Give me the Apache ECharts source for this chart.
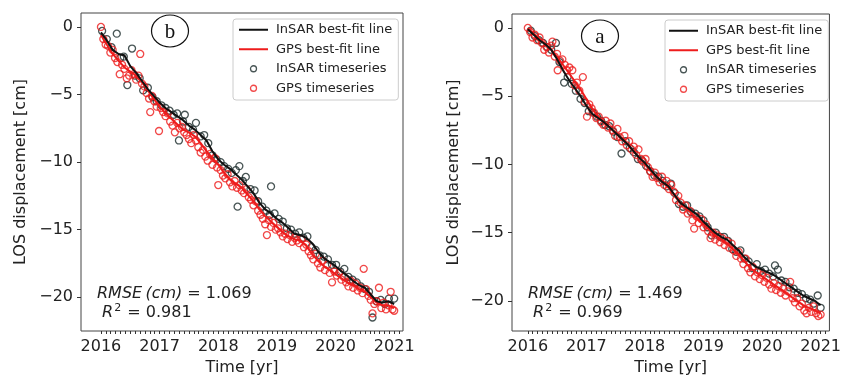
<!DOCTYPE html>
<html>
<head>
<meta charset="utf-8">
<script src="https://cdn.jsdelivr.net/npm/echarts@6/dist/echarts.min.js"></script>
<style>
  html, body { margin: 0; padding: 0; background: #fff; }
  #chart { width: 844px; height: 381px; }
</style>
</head>
<body>
<div id="chart"></div>
<script>
// ---------- Tick labels ----------
var xTickYears = [2016, 2017, 2018, 2019, 2020, 2021];
var yTickValues = [0, -5, -10, -15, -20];

// ---------- Panel b (left) ----------
var bInsarFit = [
  [2016.0,-0.4],[2016.1,-1.0],[2016.2,-1.7],[2016.3,-2.0],[2016.4,-2.1],[2016.5,-2.9],[2016.6,-3.4],[2016.7,-4.0],[2016.8,-4.6],[2016.9,-5.1],
  [2017.0,-5.6],[2017.1,-6.0],[2017.2,-6.3],[2017.3,-6.6],[2017.4,-6.9],[2017.5,-7.3],[2017.6,-7.6],[2017.7,-8.0],[2017.8,-8.4],[2017.9,-9.2],
  [2018.0,-9.8],[2018.1,-10.2],[2018.2,-10.5],[2018.3,-10.9],[2018.4,-11.3],[2018.5,-11.8],[2018.6,-12.3],[2018.7,-13.0],[2018.8,-13.5],[2018.9,-13.8],
  [2019.0,-14.2],[2019.1,-14.5],[2019.2,-14.9],[2019.3,-15.3],[2019.4,-15.4],[2019.5,-15.6],[2019.6,-16.0],[2019.7,-16.6],[2019.8,-17.1],[2019.9,-17.4],
  [2020.0,-17.7],[2020.1,-18.1],[2020.2,-18.4],[2020.3,-18.8],[2020.4,-19.1],[2020.5,-19.3],[2020.6,-19.8],[2020.7,-20.3],[2020.8,-20.4],[2020.9,-20.3],[2021.0,-20.5]
];
var bGpsFit = [
  [2016.0,-0.6],[2016.1,-1.3],[2016.2,-2.0],[2016.3,-2.5],[2016.4,-3.0],[2016.5,-3.3],[2016.6,-3.6],[2016.7,-4.1],[2016.8,-4.7],[2016.9,-5.3],
  [2017.0,-5.9],[2017.1,-6.4],[2017.2,-6.8],[2017.3,-7.2],[2017.4,-7.6],[2017.5,-7.8],[2017.6,-8.1],[2017.7,-8.6],[2017.8,-9.2],[2017.9,-9.7],
  [2018.0,-10.2],[2018.1,-10.8],[2018.2,-11.3],[2018.3,-11.6],[2018.4,-11.9],[2018.5,-12.4],[2018.6,-12.9],[2018.7,-13.5],[2018.8,-14.0],[2018.9,-14.4],
  [2019.0,-14.8],[2019.1,-15.2],[2019.2,-15.5],[2019.3,-15.7],[2019.4,-15.8],[2019.5,-16.2],[2019.6,-16.8],[2019.7,-17.3],[2019.8,-17.7],[2019.9,-18.0],
  [2020.0,-18.3],[2020.1,-18.6],[2020.2,-18.9],[2020.3,-19.1],[2020.4,-19.4],[2020.5,-19.6],[2020.6,-20.0],[2020.7,-20.4],[2020.8,-20.6],[2020.9,-20.6],[2021.0,-20.8]
];
var bInsarPts = [
  [2016.02,-0.3],[2016.10,-0.9],[2016.18,-1.5],[2016.27,-0.5],[2016.33,-2.3],[2016.39,-2.2],[2016.45,-4.3],[2016.53,-1.6],[2016.58,-3.6],[2016.66,-3.8],
  [2016.72,-4.7],[2016.80,-4.5],[2016.88,-5.2],[2016.95,-5.5],[2017.03,-5.8],[2017.10,-6.0],[2017.17,-6.2],[2017.24,-6.5],[2017.30,-6.4],[2017.33,-8.4],
  [2017.40,-7.0],[2017.43,-6.5],[2017.50,-7.4],[2017.57,-7.6],[2017.62,-7.1],[2017.70,-8.1],[2017.76,-8.0],[2017.83,-8.6],[2017.90,-9.5],[2017.97,-9.8],
  [2018.04,-10.0],[2018.10,-10.3],[2018.17,-10.5],[2018.23,-10.8],[2018.30,-10.6],[2018.33,-13.3],[2018.36,-10.3],[2018.42,-11.4],[2018.47,-11.1],[2018.55,-12.0],
  [2018.62,-12.1],[2018.68,-12.9],[2018.75,-13.3],[2018.82,-13.6],[2018.88,-13.9],[2018.90,-11.8],[2018.96,-13.8],[2019.03,-14.2],[2019.10,-14.4],[2019.17,-14.9],
  [2019.24,-15.0],[2019.31,-15.3],[2019.38,-15.2],[2019.45,-15.6],[2019.52,-15.5],[2019.59,-16.3],[2019.66,-16.5],[2019.73,-16.9],[2019.80,-17.0],[2019.87,-17.2],
  [2019.94,-17.6],[2020.01,-17.6],[2020.08,-18.1],[2020.15,-17.9],[2020.22,-18.5],[2020.29,-18.7],[2020.36,-18.9],[2020.43,-19.2],[2020.50,-19.4],[2020.57,-19.6],
  [2020.63,-21.5],[2020.70,-20.3],[2020.77,-20.2],[2020.84,-20.5],[2020.91,-20.1],[2021.00,-20.1]
];
var bGpsPts = [
  [2016.00,0.0],[2016.04,-0.9],[2016.08,-1.3],[2016.12,-1.4],[2016.16,-1.9],[2016.20,-1.7],[2016.24,-2.3],[2016.28,-2.6],[2016.32,-3.5],[2016.36,-2.8],
  [2016.40,-3.1],[2016.44,-3.8],[2016.48,-3.6],[2016.52,-3.2],[2016.56,-3.5],[2016.60,-3.9],[2016.64,-3.6],[2016.67,-2.0],[2016.70,-4.2],[2016.74,-4.4],
  [2016.78,-4.9],[2016.82,-5.3],[2016.84,-6.3],[2016.87,-5.1],[2016.91,-5.5],[2016.95,-5.9],[2016.99,-7.7],[2017.02,-6.0],[2017.06,-6.3],[2017.10,-6.6],
  [2017.14,-6.4],[2017.18,-7.0],[2017.22,-7.3],[2017.26,-7.8],[2017.30,-7.1],[2017.34,-7.5],[2017.38,-7.4],[2017.42,-7.8],[2017.46,-8.0],[2017.50,-8.3],
  [2017.54,-8.6],[2017.58,-8.0],[2017.62,-8.4],[2017.66,-8.9],[2017.70,-9.3],[2017.74,-9.1],[2017.78,-9.6],[2017.82,-9.9],[2017.86,-9.4],[2017.90,-10.2],
  [2017.94,-9.7],[2017.98,-10.4],[2018.00,-11.7],[2018.04,-10.6],[2018.08,-11.0],[2018.12,-11.2],[2018.16,-10.9],[2018.20,-11.5],[2018.24,-11.8],[2018.28,-11.4],
  [2018.32,-11.9],[2018.36,-11.7],[2018.40,-12.1],[2018.44,-12.3],[2018.48,-12.0],[2018.52,-12.6],[2018.56,-12.8],[2018.60,-13.2],[2018.64,-12.9],[2018.68,-13.6],
  [2018.72,-13.9],[2018.76,-14.2],[2018.80,-14.6],[2018.83,-15.4],[2018.86,-14.3],[2018.90,-14.8],[2018.94,-14.5],[2018.98,-15.0],[2019.02,-14.9],[2019.06,-15.2],
  [2019.10,-15.5],[2019.14,-15.3],[2019.18,-15.7],[2019.22,-15.4],[2019.26,-15.9],[2019.30,-15.6],[2019.34,-15.8],[2019.38,-16.0],[2019.42,-15.7],[2019.46,-16.3],
  [2019.50,-16.1],[2019.54,-16.6],[2019.58,-16.9],[2019.62,-17.2],[2019.66,-16.8],[2019.70,-17.5],[2019.74,-17.8],[2019.78,-17.3],[2019.82,-18.0],[2019.86,-17.6],
  [2019.90,-18.2],[2019.94,-18.9],[2019.98,-18.1],[2020.02,-18.4],[2020.06,-18.2],[2020.10,-18.7],[2020.14,-18.5],[2020.18,-18.9],[2020.22,-19.2],[2020.26,-18.8],
  [2020.30,-19.3],[2020.34,-19.0],[2020.38,-19.5],[2020.42,-19.3],[2020.46,-19.7],[2020.48,-17.9],[2020.52,-19.4],[2020.56,-19.9],[2020.60,-20.2],[2020.63,-21.2],
  [2020.66,-20.5],[2020.70,-20.3],[2020.74,-19.3],[2020.78,-20.8],[2020.82,-20.4],[2020.86,-20.9],[2020.90,-20.6],[2020.94,-19.6],[2020.97,-20.9],[2021.00,-21.0]
];

// ---------- Panel a (right) ----------
var aInsarFit = [
  [2016.0,-0.1],[2016.1,-0.5],[2016.2,-0.9],[2016.3,-1.2],[2016.4,-1.6],[2016.5,-2.3],[2016.6,-3.1],[2016.7,-3.8],[2016.8,-4.4],[2016.9,-5.0],
  [2017.0,-5.7],[2017.1,-6.3],[2017.2,-6.6],[2017.3,-6.9],[2017.4,-7.3],[2017.5,-7.7],[2017.6,-8.1],[2017.7,-8.5],[2017.8,-9.0],[2017.9,-9.5],
  [2018.0,-9.9],[2018.1,-10.4],[2018.2,-10.9],[2018.3,-11.3],[2018.4,-11.6],[2018.5,-12.2],[2018.6,-12.8],[2018.7,-13.1],[2018.8,-13.4],[2018.9,-13.7],
  [2019.0,-14.2],[2019.1,-14.6],[2019.2,-15.0],[2019.3,-15.3],[2019.4,-15.5],[2019.5,-15.9],[2019.6,-16.3],[2019.7,-16.8],[2019.8,-17.2],[2019.9,-17.5],
  [2020.0,-17.7],[2020.1,-17.9],[2020.2,-18.1],[2020.3,-18.4],[2020.4,-18.7],[2020.5,-19.0],[2020.6,-19.3],[2020.7,-19.6],[2020.8,-19.8],[2020.9,-20.0],[2021.0,-20.3]
];
var aGpsFit = [
  [2016.0,0.0],[2016.1,-0.4],[2016.2,-0.8],[2016.3,-1.2],[2016.4,-1.6],[2016.5,-2.1],[2016.6,-2.7],[2016.7,-3.3],[2016.8,-3.9],[2016.9,-4.5],
  [2017.0,-5.2],[2017.1,-5.9],[2017.2,-6.5],[2017.3,-6.9],[2017.4,-7.3],[2017.5,-7.7],[2017.6,-8.1],[2017.7,-8.5],[2017.8,-9.0],[2017.9,-9.5],
  [2018.0,-10.0],[2018.1,-10.5],[2018.2,-10.9],[2018.3,-11.3],[2018.4,-11.7],[2018.5,-12.2],[2018.6,-12.8],[2018.7,-13.2],[2018.8,-13.6],[2018.9,-14.0],
  [2019.0,-14.4],[2019.1,-14.8],[2019.2,-15.2],[2019.3,-15.5],[2019.4,-15.8],[2019.5,-16.2],[2019.6,-16.6],[2019.7,-17.1],[2019.8,-17.6],[2019.9,-17.9],
  [2020.0,-18.2],[2020.1,-18.5],[2020.2,-18.8],[2020.3,-19.1],[2020.4,-19.4],[2020.5,-19.7],[2020.6,-20.0],[2020.7,-20.3],[2020.8,-20.5],[2020.9,-20.7],[2021.0,-20.9]
];
var aInsarPts = [
  [2016.05,-0.2],[2016.12,-0.6],[2016.19,-0.9],[2016.26,-1.1],[2016.33,-1.4],[2016.40,-1.6],[2016.48,-1.1],[2016.54,-2.5],[2016.62,-4.0],[2016.68,-3.6],
  [2016.75,-4.1],[2016.82,-4.6],[2016.90,-5.2],[2016.97,-5.5],[2017.04,-6.1],[2017.11,-6.2],[2017.18,-6.5],[2017.25,-6.8],[2017.32,-7.1],[2017.39,-7.2],
  [2017.46,-7.6],[2017.53,-8.0],[2017.60,-9.2],[2017.67,-8.3],[2017.74,-8.8],[2017.81,-9.1],[2017.88,-9.6],[2017.95,-9.7],[2018.02,-10.1],[2018.09,-10.5],
  [2018.16,-10.8],[2018.23,-10.9],[2018.30,-11.2],[2018.37,-11.6],[2018.44,-11.4],[2018.51,-12.1],[2018.58,-12.9],[2018.65,-13.1],[2018.72,-13.0],[2018.79,-13.5],
  [2018.86,-13.6],[2018.93,-13.8],[2019.00,-14.1],[2019.07,-14.6],[2019.14,-15.2],[2019.21,-15.0],[2019.28,-15.3],[2019.35,-15.3],[2019.42,-15.6],[2019.49,-16.2],
  [2019.56,-16.4],[2019.63,-16.3],[2019.70,-16.9],[2019.77,-17.1],[2019.84,-17.6],[2019.91,-17.3],[2019.98,-17.8],[2020.05,-17.7],[2020.12,-18.0],[2020.19,-18.2],
  [2020.22,-17.4],[2020.27,-17.7],[2020.33,-18.5],[2020.40,-18.6],[2020.47,-19.0],[2020.54,-19.1],[2020.61,-19.4],[2020.68,-19.5],[2020.75,-19.8],[2020.82,-19.9],
  [2020.88,-20.2],[2020.95,-19.6],[2021.00,-20.5]
];
var aGpsPts = [
  [2016.00,0.0],[2016.04,-0.3],[2016.08,-0.7],[2016.12,-0.5],[2016.16,-0.9],[2016.20,-0.7],[2016.24,-1.1],[2016.28,-1.6],[2016.32,-1.4],[2016.36,-1.8],
  [2016.40,-1.3],[2016.42,-1.0],[2016.46,-2.1],[2016.50,-1.9],[2016.51,-3.1],[2016.55,-2.4],[2016.59,-2.3],[2016.63,-2.7],[2016.67,-3.1],[2016.71,-2.9],
  [2016.76,-3.1],[2016.80,-4.2],[2016.84,-4.0],[2016.88,-4.6],[2016.94,-3.6],[2016.97,-5.4],[2017.01,-6.5],[2017.05,-5.6],[2017.09,-5.9],[2017.13,-6.2],
  [2017.17,-6.6],[2017.21,-6.5],[2017.25,-6.9],[2017.29,-7.1],[2017.33,-6.8],[2017.37,-7.3],[2017.41,-7.0],[2017.45,-7.5],[2017.49,-7.9],[2017.53,-7.4],
  [2017.57,-8.0],[2017.61,-8.3],[2017.65,-7.9],[2017.69,-8.6],[2017.73,-8.3],[2017.77,-8.9],[2017.81,-8.7],[2017.85,-9.3],[2017.89,-8.9],[2017.93,-9.6],
  [2017.97,-9.8],[2018.01,-9.6],[2018.05,-10.2],[2018.09,-10.5],[2018.13,-10.9],[2018.17,-10.6],[2018.21,-11.0],[2018.25,-11.3],[2018.29,-10.9],[2018.33,-11.5],
  [2018.37,-11.2],[2018.41,-11.8],[2018.45,-11.5],[2018.49,-12.0],[2018.53,-12.6],[2018.57,-12.3],[2018.61,-12.8],[2018.65,-13.3],[2018.69,-13.0],[2018.73,-13.6],
  [2018.77,-13.4],[2018.81,-14.1],[2018.84,-14.7],[2018.88,-13.8],[2018.92,-14.3],[2018.96,-14.0],[2019.00,-14.6],[2019.04,-14.4],[2019.08,-14.9],[2019.12,-15.4],
  [2019.16,-15.0],[2019.20,-15.5],[2019.24,-15.2],[2019.28,-15.7],[2019.32,-15.4],[2019.36,-15.9],[2019.40,-15.6],[2019.44,-16.1],[2019.48,-15.8],[2019.52,-16.3],
  [2019.56,-16.7],[2019.60,-16.4],[2019.64,-16.9],[2019.68,-17.3],[2019.72,-16.9],[2019.76,-17.6],[2019.80,-17.9],[2019.84,-17.5],[2019.88,-18.2],[2019.92,-17.9],
  [2019.96,-18.4],[2020.00,-18.1],[2020.04,-18.6],[2020.08,-18.3],[2020.12,-18.8],[2020.16,-19.1],[2020.20,-18.7],[2020.24,-19.2],[2020.28,-18.9],[2020.32,-19.4],
  [2020.36,-19.1],[2020.40,-19.6],[2020.44,-19.3],[2020.48,-18.6],[2020.52,-19.8],[2020.56,-20.1],[2020.60,-19.8],[2020.64,-20.4],[2020.68,-20.2],[2020.72,-20.7],
  [2020.76,-20.9],[2020.80,-20.5],[2020.84,-20.8],[2020.88,-20.4],[2020.92,-20.9],[2020.96,-21.1],[2021.00,-21.0]
];

// ---------- Names / texts ----------
var seriesNames = ['InSAR best-fit line', 'GPS best-fit line', 'InSAR timeseries', 'GPS timeseries'];
var panelLetters = ['b', 'a'];
var rmseValues = ['1.069', '1.469'];
var r2Values = ['0.981', '0.969'];

// ---------- Build chart ----------
var FONT = 'DejaVu Sans';
var RED = '#ee1c1c';
var BLACK = '#111111';
var DARK = '#1a2a2a';

// monthly tick marks along the time axis (years included)
var monthTicks = [];
for (var yy = 2016; yy <= 2021; yy++) {
  for (var m = 0; m < 12; m++) {
    var v = yy + m / 12;
    if (v <= 2021.1) monthTicks.push(+v.toFixed(4));
  }
}

var grids = [
  { left: 81, top: 13, width: 322, height: 319 },
  { left: 512, top: 14, width: 321, height: 319 }
];
var xRanges = [[2015.66, 2021.15], [2015.73, 2021.15]];
var yRanges = [[-22.5, 1.03], [-22.2, 1.02]];

var minusFmt = function (v) { return String(v).replace('-', '\u2212'); };
var yearFmt = function (v) { return String(Math.round(v)); };

var option = {
  backgroundColor: '#ffffff',
  animation: false,
  textStyle: { fontFamily: FONT },
  grid: grids.map(function (g) {
    return Object.assign({ show: true, borderColor: '#444', borderWidth: 1, backgroundColor: 'transparent' }, g);
  }),
  xAxis: [],
  yAxis: [],
  legend: [],
  series: [],
  graphic: []
};

var panels = [
  { insarFit: bInsarFit, gpsFit: bGpsFit, insarPts: bInsarPts, gpsPts: bGpsPts },
  { insarFit: aInsarFit, gpsFit: aGpsFit, insarPts: aInsarPts, gpsPts: aGpsPts }
];

panels.forEach(function (p, i) {
  option.xAxis.push({
    type: 'value', gridIndex: i, position: 'bottom', min: xRanges[i][0], max: xRanges[i][1],
    name: 'Time [yr]', nameLocation: 'middle', nameGap: 29,
    nameTextStyle: { fontSize: 16, color: '#222', fontFamily: FONT },
    axisLine: { show: false, onZero: false },
    splitLine: { show: false },
    axisTick: { show: true, customValues: monthTicks, length: 3, lineStyle: { color: '#333', width: 1 } },
    axisLabel: { customValues: xTickYears, fontSize: 16, color: '#222', margin: 8, fontFamily: FONT, formatter: yearFmt }
  });
  option.yAxis.push({
    type: 'value', gridIndex: i, position: 'left', min: yRanges[i][0], max: yRanges[i][1],
    name: 'LOS displacement [cm]', nameLocation: 'middle', nameGap: i === 0 ? 52 : 50,
    nameTextStyle: { fontSize: 16, color: '#222', fontFamily: FONT },
    axisLine: { show: false, onZero: false }, splitLine: { show: false },
    axisTick: { show: true, customValues: yTickValues, length: 4, lineStyle: { color: '#333', width: 1 } },
    axisLabel: { customValues: yTickValues, fontSize: 16, color: '#222', margin: 8, formatter: minusFmt, fontFamily: FONT }
  });

  option.series.push({
    name: seriesNames[2], type: 'scatter', xAxisIndex: i, yAxisIndex: i, data: p.insarPts,
    symbol: 'circle', symbolSize: 7, z: 2,
    itemStyle: { color: 'rgba(0,0,0,0)', borderColor: DARK, borderWidth: 1.3 }
  });
  option.series.push({
    name: seriesNames[3], type: 'scatter', xAxisIndex: i, yAxisIndex: i, data: p.gpsPts,
    symbol: 'circle', symbolSize: 7, z: 3,
    itemStyle: { color: 'rgba(0,0,0,0)', borderColor: RED, borderWidth: 1.3 }
  });
  option.series.push({
    name: seriesNames[1], type: 'line', xAxisIndex: i, yAxisIndex: i, data: p.gpsFit,
    symbol: 'none', showSymbol: false, z: 4,
    lineStyle: { color: RED, width: 2 }, itemStyle: { color: RED }
  });
  option.series.push({
    name: seriesNames[0], type: 'line', xAxisIndex: i, yAxisIndex: i, data: p.insarFit,
    symbol: 'none', showSymbol: false, z: 5,
    lineStyle: { color: BLACK, width: 2 }, itemStyle: { color: BLACK }
  });

  option.legend.push({
    data: [
      { name: seriesNames[0], itemStyle: { opacity: 0 }, lineStyle: { color: BLACK, width: 2 } },
      { name: seriesNames[1], itemStyle: { opacity: 0 }, lineStyle: { color: RED, width: 2 } },
      { name: seriesNames[2], icon: 'circle', itemStyle: { color: 'rgba(0,0,0,0)', borderColor: DARK, borderWidth: 1.3 } },
      { name: seriesNames[3], icon: 'circle', itemStyle: { color: 'rgba(0,0,0,0)', borderColor: RED, borderWidth: 1.3 } }
    ],
    orient: 'vertical',
    left: i === 0 ? 233 : 665, top: i === 0 ? 19 : 20,
    padding: [1, 6, 2, i === 0 ? 5 : 3],
    itemWidth: 29, itemHeight: 6, itemGap: 0,
    selectedMode: false,
    borderColor: '#cccccc', borderWidth: 1, borderRadius: 3,
    backgroundColor: 'rgba(255,255,255,0.85)',
    textStyle: { fontSize: 13, color: '#222', fontFamily: FONT, lineHeight: 19.5, padding: [0, 0, 0, 3] }
  });
});

// annotations
var circleCenters = [[170, 31], [600, 36]];
var rmsePos = [[97, 284], [528, 284]];
circleCenters.forEach(function (c, i) {
  option.graphic.push({
    type: 'ellipse', shape: { cx: c[0], cy: c[1], rx: 18.5, ry: 16 },
    style: { fill: '#fff', stroke: '#111', lineWidth: 1.2 }, z: 20
  });
  option.graphic.push({
    type: 'text', x: c[0], y: c[1] + 1, z: 21,
    style: { text: panelLetters[i], fontFamily: 'Liberation Serif', fontSize: 21, fill: '#111', align: 'center', verticalAlign: 'middle' }
  });
  option.graphic.push({
    type: 'text', x: rmsePos[i][0], y: rmsePos[i][1], z: 21,
    style: {
      text: '{it|RMSE\u2009(cm)}{n| = ' + rmseValues[i] + '}\n {it|R}{sup|2}{n| = ' + r2Values[i] + '}',
      fontFamily: FONT, fontSize: 16, fill: '#222', lineHeight: 19,
      rich: {
        it: { fontFamily: FONT, fontStyle: 'italic', fontSize: 16, fill: '#222', lineHeight: 19 },
        n: { fontFamily: FONT, fontSize: 16, fill: '#222', lineHeight: 19 },
        sup: { fontFamily: FONT, fontSize: 11, fill: '#222', verticalAlign: 'top', padding: [0, 1, 8, 1], lineHeight: 19 }
      }
    }
  });
});

var chart = echarts.init(document.getElementById('chart'), null, { renderer: 'canvas' });
chart.setOption(option);
</script>
</body>
</html>
